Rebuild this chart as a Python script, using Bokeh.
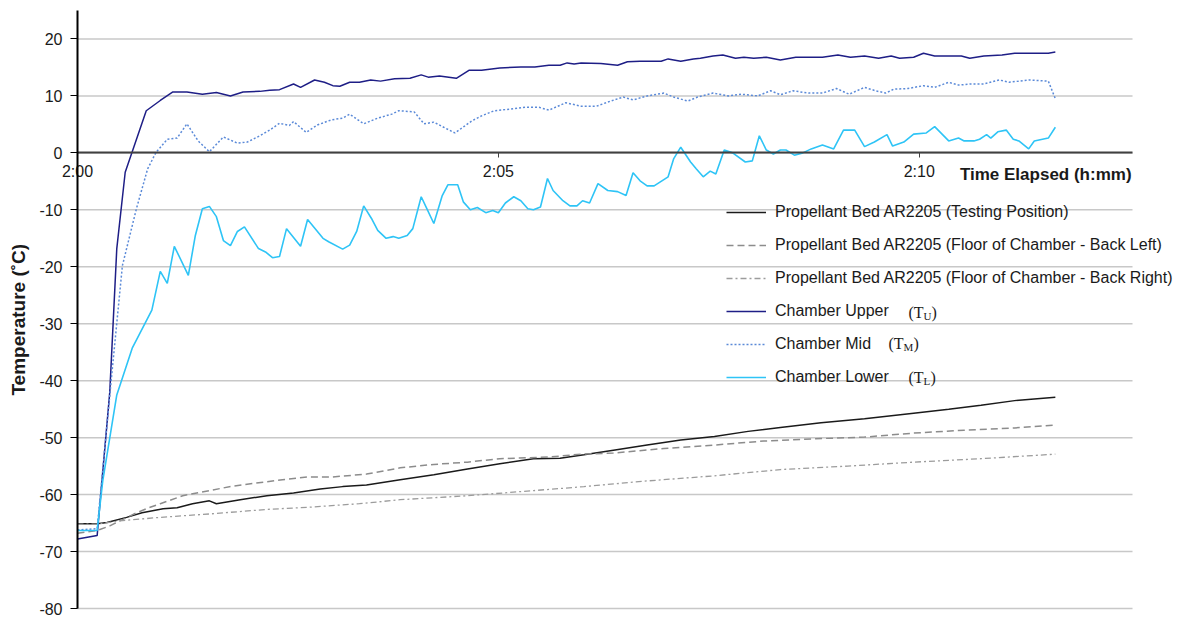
import math
from bokeh.plotting import figure
from bokeh.models import Range1d, FixedTicker, Legend, LegendItem, Label
from bokeh.embed import file_html
from bokeh.resources import INLINE

FONT = "Liberation Sans"
SERIF = "Liberation Serif"
INK = "#1a1a1a"

# elapsed time in seconds after 2:00, temperatures in degrees C
bed_t = [0, 14, 21, 35, 46, 61, 71, 82, 94, 99, 116, 135, 154, 173, 189, 206, 230, 254,
         278, 301, 325, 344, 361, 382, 406, 430, 454, 478, 501, 530, 561, 596, 621, 644, 668, 697]
bed_c = [-65.1, -65.1, -64.9, -64.0, -63.2, -62.5, -62.3, -61.6, -61.1, -61.6, -60.9, -60.2,
         -59.7, -59.0, -58.6, -58.3, -57.4, -56.5, -55.5, -54.6, -53.7, -53.6, -53.0, -52.2,
         -51.3, -50.4, -49.8, -48.9, -48.2, -47.4, -46.7, -45.7, -45.0, -44.3, -43.5, -42.9]

left_t = [0, 14, 23, 42, 51, 59, 75, 94, 111, 146, 164, 182, 206, 230, 254, 278, 301, 337,
          359, 382, 418, 454, 489, 525, 561, 596, 632, 668, 697]
left_c = [-66.8, -66.3, -65.5, -63.2, -62.3, -61.6, -60.2, -59.3, -58.5, -57.4, -56.9, -56.9,
          -56.4, -55.3, -54.7, -54.3, -53.7, -53.4, -52.9, -52.7, -51.9, -51.3, -50.6, -50.2,
          -49.9, -49.2, -48.7, -48.3, -47.8]

right_t = [0, 14, 30, 59, 94, 135, 166, 201, 230, 278, 325, 361, 406, 454, 501, 549, 596, 644, 697]
right_c = [-65.2, -65.2, -64.6, -64.0, -63.4, -62.6, -62.2, -61.6, -60.9, -60.2, -59.3, -58.6,
           -57.6, -56.7, -55.6, -55.0, -54.3, -53.7, -52.9]

upper_t = [0, 14, 23, 28, 34, 49, 59, 68, 78, 89, 99, 109, 118, 130, 137, 144, 154, 159, 169,
           176, 182, 187, 194, 201, 209, 216, 226, 237, 245, 250, 258, 270, 279, 288, 301, 316,
           326, 336, 344, 349, 354, 359, 373, 385, 392, 401, 416, 421, 430, 439, 444, 453, 460,
           469, 475, 482, 491, 501, 512, 521, 531, 542, 551, 561, 571, 580, 586, 596, 603, 611,
           630, 636, 646, 659, 668, 692, 697]
upper_c = [-67.8, -67.2, -42.0, -16.8, -3.4, 7.4, 9.2, 10.7, 10.7, 10.3, 10.6, 10.0, 10.7, 10.8,
           11.0, 11.1, 12.1, 11.5, 12.8, 12.4, 11.8, 11.7, 12.4, 12.4, 12.8, 12.6, 13.0, 13.1,
           13.7, 13.3, 13.5, 13.1, 14.5, 14.5, 14.9, 15.1, 15.1, 15.4, 15.4, 15.8, 15.6, 15.8,
           15.7, 15.4, 16.0, 16.1, 16.1, 16.5, 16.1, 16.5, 16.6, 17.0, 17.2, 16.6, 16.8, 16.6,
           16.8, 16.3, 16.8, 16.8, 16.8, 17.2, 16.8, 17.0, 16.6, 17.0, 16.6, 16.8, 17.5, 17.0,
           17.0, 16.6, 17.0, 17.2, 17.5, 17.5, 17.7]

mid_t = [0, 14, 24, 32, 42, 50, 56, 64, 71, 78, 86, 94, 104, 114, 121, 130, 137, 144, 151, 154,
         163, 171, 181, 189, 194, 204, 214, 224, 229, 240, 247, 254, 261, 269, 281, 288, 297,
         309, 319, 329, 336, 348, 359, 370, 380, 389, 396, 406, 418, 425, 435, 442, 453, 464,
         473, 485, 494, 501, 510, 521, 531, 541, 550, 561, 569, 576, 582, 592, 603, 611, 621,
         628, 637, 646, 657, 664, 678, 692, 697]
mid_c = [-66.2, -66.0, -40.0, -19.8, -9.8, -2.8, 0.1, 2.4, 2.6, 5.1, 2.1, 0.2, 2.8, 1.7, 1.9,
         3.0, 4.0, 5.2, 4.8, 5.5, 3.6, 4.9, 5.8, 6.1, 6.8, 5.1, 6.1, 6.8, 7.4, 7.2, 5.1, 5.4,
         4.5, 3.5, 5.6, 6.5, 7.4, 7.7, 8.0, 8.0, 7.5, 8.8, 8.2, 8.2, 9.1, 9.8, 9.3, 10.0, 10.5,
         9.8, 9.1, 9.8, 10.5, 10.0, 10.3, 10.0, 10.9, 10.2, 10.9, 10.5, 10.5, 11.3, 10.3, 11.5,
         10.9, 10.5, 11.2, 11.3, 11.8, 11.5, 12.4, 11.9, 12.1, 12.1, 12.8, 12.4, 12.8, 12.6, 9.5]

low_t = [0, 14, 18, 28, 39, 53, 59, 64, 69, 79, 84, 89, 94, 99, 104, 109, 114, 119, 129, 134,
         139, 144, 149, 159, 164, 175, 179, 189, 194, 199, 204, 210, 214, 220, 225, 229, 235,
         239, 245, 249, 254, 260, 264, 271, 275, 280, 285, 291, 296, 300, 305, 311, 316, 321,
         325, 330, 335, 339, 346, 351, 356, 360, 365, 371, 378, 385, 391, 396, 401, 406, 411,
         421, 425, 430, 437, 441, 446, 451, 455, 461, 467, 476, 481, 486, 491, 496, 501, 505,
         511, 517, 523, 531, 539, 546, 554, 561, 568, 577, 581, 589, 596, 605, 611, 621, 628,
         632, 639, 643, 648, 651, 656, 662, 667, 671, 678, 682, 692, 697]
low_c = [-66.3, -66.3, -57.6, -42.5, -34.3, -27.6, -20.8, -22.9, -16.4, -21.5, -14.5, -9.8,
         -9.4, -11.2, -15.4, -16.3, -13.8, -13.0, -16.8, -17.4, -18.4, -18.2, -13.3, -16.4,
         -11.7, -15.0, -15.6, -16.9, -16.2, -13.8, -9.3, -11.7, -13.6, -15.0, -14.7, -15.0,
         -14.5, -13.3, -7.7, -9.8, -12.4, -7.5, -5.6, -5.6, -8.6, -10.0, -9.6, -10.5, -10.1,
         -10.5, -8.8, -7.7, -8.4, -9.8, -10.0, -9.5, -4.5, -6.6, -8.4, -9.3, -9.3, -8.4, -8.8,
         -5.4, -6.6, -6.8, -7.5, -3.5, -4.9, -5.8, -5.8, -4.2, -1.0, 1.0, -1.6, -2.8, -4.2,
         -3.2, -3.7, 0.5, 0.0, -1.6, -1.4, 3.0, 0.5, -0.2, 0.5, 0.5, -0.4, 0.0, 0.7, 1.4, 0.7,
         4.0, 4.0, 1.1, 1.9, 3.2, 1.2, 1.9, 3.3, 3.5, 4.6, 2.1, 2.6, 2.1, 2.1, 2.4, 3.2, 2.6,
         3.7, 4.0, 2.4, 2.1, 0.7, 2.1, 2.6, 4.5]

x_ticks = [0, 300, 600]
x_tick_labels = ["2:00", "2:05", "2:10"]
y_ticks = [-80, -70, -60, -50, -40, -30, -20, -10, 0, 10, 20]
y_tick_labels = ["-80", "-70", "-60", "-50", "-40", "-30", "-20", "-10", "0", "10", "20"]

series_names = [
    "Propellant Bed AR2205 (Testing Position)",
    "Propellant Bed AR2205 (Floor of Chamber - Back Left)",
    "Propellant Bed AR2205 (Floor of Chamber - Back Right)",
    "Chamber Upper",
    "Chamber Mid",
    "Chamber Lower",
]
symbol_letters = ["U", "M", "L"]

# extent of the drawn axes (time in s, temperature in degrees C)
T_END = 752
C_MIN, C_MAX = -80, 25

W, H = 1184, 618
X0_PX, X1_PX = 77, 1132          # where 0 s and T_END sit on the canvas
Y_TOP_PX, Y_BOT_PX = 10, 608     # where C_MAX and C_MIN sit
sx = (X1_PX - X0_PX) / T_END
sy = (Y_BOT_PX - Y_TOP_PX) / (C_MAX - C_MIN)

p = figure(width=W, height=H, output_backend="svg", toolbar_location=None, title=None,
           x_range=Range1d(-X0_PX / sx, (W - X0_PX) / sx),
           y_range=Range1d(C_MIN - (H - Y_BOT_PX) / sy, C_MAX + Y_TOP_PX / sy),
           min_border_left=0, min_border_right=0, min_border_top=0, min_border_bottom=0)
p.outline_line_color = None
p.background_fill_color = "white"
p.border_fill_color = "white"
p.xgrid.visible = False
p.ygrid.visible = False

# horizontal gridlines, stopping at the end of the time axis
p.segment(x0=[0] * len(y_ticks), x1=[T_END] * len(y_ticks), y0=y_ticks, y1=y_ticks,
          line_color="#c8c8c8", line_width=1.5)

# temperature axis
p.yaxis.fixed_location = 0
p.yaxis.bounds = (C_MIN, C_MAX)
p.yaxis.ticker = FixedTicker(ticks=y_ticks)
p.yaxis.major_label_overrides = dict(zip(y_ticks, y_tick_labels))
p.yaxis.axis_line_color = "black"
p.yaxis.axis_line_width = 2
p.yaxis.major_tick_line_color = "black"
p.yaxis.major_tick_out = 7
p.yaxis.major_tick_in = 0
p.yaxis.minor_tick_line_color = None
p.yaxis.major_label_standoff = 8
p.yaxis.major_label_text_font = FONT
p.yaxis.major_label_text_font_size = "16px"
p.yaxis.major_label_text_color = INK

p.add_layout(Label(x=-42, y=-29.3, text="Temperature (˚C)", angle=math.pi / 2,
                   text_font=FONT, text_font_style="bold", text_font_size="19px",
                   text_color=INK, text_align="center", text_baseline="middle"))

# time axis crossing at 0 degrees
p.xaxis.fixed_location = 0
p.xaxis.bounds = (0, T_END)
p.xaxis.ticker = FixedTicker(ticks=x_ticks)
p.xaxis.major_label_overrides = dict(zip(x_ticks, x_tick_labels))
p.xaxis.axis_line_color = "#404040"
p.xaxis.axis_line_width = 2
p.xaxis.major_tick_line_color = "#404040"
p.xaxis.major_tick_out = 5
p.xaxis.major_tick_in = 0
p.xaxis.minor_tick_line_color = None
p.xaxis.major_label_standoff = 5
p.xaxis.major_label_text_font = FONT
p.xaxis.major_label_text_font_size = "16px"
p.xaxis.major_label_text_color = INK

p.add_layout(Label(x=629, y=-3.8, text="Time Elapsed (h:mm)", text_font=FONT,
                   text_font_style="bold", text_font_size="17px", text_color=INK,
                   text_baseline="middle"))

r_bed = p.line(bed_t, bed_c, line_color="#1a1a1a", line_width=1.5)
r_left = p.line(left_t, left_c, line_color="#8c8c8c", line_width=1.5, line_dash="7 4")
r_right = p.line(right_t, right_c, line_color="#9c9c9c", line_width=1.3, line_dash="6 3 2 3")
r_up = p.line(upper_t, upper_c, line_color="#1e1e86", line_width=1.5)
r_mid = p.line(mid_t, mid_c, line_color="#5b8ad8", line_width=1.5, line_dash="2 2")
r_low = p.line(low_t, low_c, line_color="#2ec4f6", line_width=1.6)

renderers = [r_bed, r_left, r_right, r_up, r_mid, r_low]
legend = Legend(items=[LegendItem(label=n, renderers=[r]) for n, r in zip(series_names, renderers)],
                location=(726, 231), orientation="vertical",
                border_line_color=None, background_fill_alpha=0,
                padding=0, margin=0, spacing=13,
                glyph_width=40, glyph_height=20, label_height=20, label_standoff=9,
                label_text_font=FONT, label_text_font_size="16px", label_text_color=INK)
p.add_layout(legend)

# symbol tags (T with a small-capital subscript) after the chamber entries
tag_pos = [(592.3, -28.1), (578.1, -33.5), (592.3, -39.5)]
sub_width = {"U": 8, "M": 10, "L": 7}
for letter, (tx, ty) in zip(symbol_letters, tag_pos):
    p.add_layout(Label(x=tx, y=ty, text="(T", text_font=SERIF, text_font_size="16px",
                       text_color=INK, text_baseline="middle"))
    p.add_layout(Label(x=tx, y=ty, x_offset=15, y_offset=-3, text=letter, text_font=SERIF,
                       text_font_size="11px", text_color=INK, text_baseline="middle"))
    p.add_layout(Label(x=tx, y=ty, x_offset=15 + sub_width[letter], text=")", text_font=SERIF,
                       text_font_size="16px", text_color=INK, text_baseline="middle"))

open("out.html", "w").write(file_html(p, INLINE))
